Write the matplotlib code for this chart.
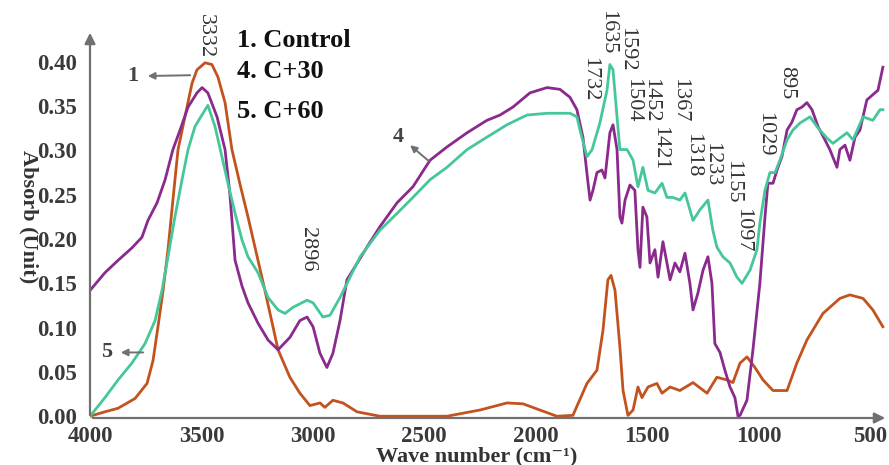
import numpy as np
import matplotlib
matplotlib.use("Agg")
import matplotlib.pyplot as plt

# FTIR spectra (wavenumber cm-1, absorbance)
ctrl_w = [4000, 3933, 3874, 3798, 3744, 3717, 3695, 3672, 3650, 3628, 3605, 3574, 3542, 3520,
          3484, 3453, 3426, 3394, 3363, 3327, 3291, 3215, 3156, 3103, 3058, 3013, 2968,
          2946, 2910, 2865, 2802, 2699, 2398, 2250, 2129, 2057, 1981, 1905, 1833, 1770, 1725,
          1698, 1676, 1662, 1644, 1622, 1608, 1586, 1563, 1541, 1523, 1496, 1456, 1433, 1397,
          1353, 1294, 1231, 1187, 1142, 1115, 1083, 1052, 1016, 980, 935, 872, 828, 783, 711,
          635, 590, 531, 487, 442]
ctrl_a = [0.000, 0.005, 0.009, 0.020, 0.037, 0.063, 0.101, 0.142, 0.188, 0.244, 0.301, 0.338,
          0.376, 0.391, 0.399, 0.397, 0.383, 0.354, 0.301, 0.262, 0.225, 0.142, 0.075,
          0.044, 0.026, 0.012, 0.015, 0.010, 0.018, 0.015, 0.005, 0.000, 0.000, 0.007, 0.015,
          0.014, 0.007, 0.000, 0.001, 0.037, 0.052, 0.097, 0.154, 0.159, 0.142, 0.078, 0.029,
          0.001, 0.007, 0.033, 0.021, 0.033, 0.037, 0.026, 0.033, 0.029, 0.038, 0.026, 0.044,
          0.041, 0.038, 0.060, 0.067, 0.055, 0.041, 0.029, 0.029, 0.060, 0.086, 0.116, 0.133,
          0.137, 0.133, 0.120, 0.101]

c30_w = [4000, 3933, 3874, 3812, 3767, 3740, 3699, 3663, 3628, 3596, 3560, 3520, 3497, 3471,
         3430, 3394, 3372, 3349, 3318, 3291, 3246, 3201, 3156, 3103, 3058, 3026, 2999, 2968,
         2937, 2910, 2878, 2847, 2820, 2757, 2699, 2622, 2551, 2474, 2398, 2308, 2219, 2160,
         2102, 2026, 1949, 1891, 1846, 1815, 1788, 1765, 1756, 1743, 1725, 1703, 1689, 1667,
         1653, 1635, 1622, 1613, 1599, 1577, 1555, 1541, 1532, 1519, 1501, 1487, 1465, 1451,
         1429, 1411, 1397, 1375, 1353, 1330, 1308, 1294, 1272, 1249, 1227, 1209, 1196, 1173,
         1151, 1128, 1106, 1092, 1083, 1052, 1025, 994, 971, 958, 935, 917, 895, 872, 850,
         828, 805, 783, 760, 733, 702, 680, 648, 635, 612, 590, 567, 545, 514, 487, 464, 442]
c30_a = [0.142, 0.162, 0.176, 0.190, 0.202, 0.221, 0.241, 0.267, 0.301, 0.323, 0.349, 0.365,
         0.371, 0.365, 0.338, 0.301, 0.250, 0.176, 0.147, 0.128, 0.105, 0.086, 0.075, 0.089,
         0.108, 0.112, 0.101, 0.071, 0.055, 0.071, 0.108, 0.154, 0.165, 0.191, 0.214, 0.241,
         0.259, 0.289, 0.304, 0.320, 0.334, 0.340, 0.349, 0.365, 0.371, 0.369, 0.360, 0.346,
         0.315, 0.263, 0.244, 0.255, 0.275, 0.278, 0.269, 0.320, 0.329, 0.301, 0.225, 0.218,
         0.244, 0.261, 0.255, 0.188, 0.168, 0.236, 0.225, 0.173, 0.188, 0.157, 0.197, 0.173,
         0.154, 0.173, 0.163, 0.184, 0.150, 0.120, 0.139, 0.165, 0.180, 0.150, 0.082, 0.072,
         0.052, 0.033, 0.021, 0.000, 0.001, 0.018, 0.075, 0.150, 0.225, 0.263, 0.263, 0.278,
         0.293, 0.323, 0.332, 0.346, 0.349, 0.354, 0.346, 0.327, 0.312, 0.301, 0.281, 0.301,
         0.306, 0.289, 0.315, 0.323, 0.357, 0.363, 0.368, 0.394]

c60_w = [4000, 3933, 3874, 3812, 3753, 3708, 3677, 3650, 3619, 3587, 3560, 3529, 3493, 3471,
         3439, 3408, 3381, 3349, 3318, 3291, 3246, 3201, 3156, 3125, 3089, 3026, 2999, 2955,
         2923, 2878, 2833, 2788, 2699, 2622, 2551, 2474, 2398, 2308, 2219, 2129, 2039, 1949,
         1846, 1815, 1801, 1770, 1747, 1712, 1680, 1667, 1653, 1635, 1622, 1590, 1563, 1541,
         1519, 1496, 1465, 1433, 1411, 1384, 1353, 1330, 1294, 1263, 1227, 1205, 1187, 1160,
         1128, 1097, 1074, 1038, 1007, 994, 971, 949, 926, 904, 872, 846, 814, 769, 738, 693,
         666, 635, 603, 576, 531, 487, 455, 442]
c60_a = [0.000, 0.021, 0.041, 0.060, 0.082, 0.108, 0.142, 0.180, 0.225, 0.267, 0.301, 0.327,
         0.342, 0.351, 0.327, 0.293, 0.263, 0.229, 0.199, 0.180, 0.162, 0.134, 0.120, 0.116,
         0.123, 0.131, 0.128, 0.112, 0.114, 0.134, 0.157, 0.180, 0.210, 0.229, 0.247, 0.267,
         0.281, 0.301, 0.315, 0.329, 0.340, 0.342, 0.342, 0.338, 0.323, 0.293, 0.301, 0.331,
         0.368, 0.397, 0.391, 0.338, 0.301, 0.301, 0.289, 0.259, 0.281, 0.255, 0.252, 0.263,
         0.247, 0.247, 0.244, 0.252, 0.221, 0.233, 0.244, 0.210, 0.191, 0.180, 0.173, 0.157,
         0.150, 0.165, 0.188, 0.218, 0.255, 0.275, 0.275, 0.289, 0.312, 0.323, 0.331, 0.338,
         0.327, 0.314, 0.308, 0.314, 0.320, 0.312, 0.338, 0.334, 0.346, 0.346]

peak_labels = ["3332", "2896", "1732", "1635", "1592", "1504", "1452", "1421", "1367",
               "1318", "1233", "1155", "1097", "1029", "895"]
peak_x = [3484, 3026, 1756, 1676, 1590, 1565, 1485, 1442, 1353, 1294, 1212, 1115, 1070, 971, 872]
peak_y = [0.429, 0.188, 0.380, 0.433, 0.414, 0.357, 0.357, 0.303, 0.357, 0.295, 0.285, 0.265,
          0.210, 0.318, 0.377]

legend_lines = ["1. Control", "4. C+30", "5. C+60"]

orange = "#c2531f"
purple = "#8a2a8c"
green = "#45c79a"
grey = "#707070"
serif = ["Liberation Serif", "DejaVu Serif"]

fig = plt.figure(figsize=(8.89, 4.65), dpi=100)
ax = fig.add_axes([90/889, 1-418/465, 798/889, 388/465])

ax.plot(ctrl_w, ctrl_a, color=orange, lw=2)
ax.plot(c30_w, c30_a, color=purple, lw=2)
ax.plot(c60_w, c60_a, color=green, lw=2)

ax.set_xlim(4000, 419)
ax.set_ylim(-0.002, 0.436)
ax.set_xticks([4000, 3500, 3000, 2500, 2000, 1500, 1000, 500])
ax.set_yticks(np.arange(0, 0.41, 0.05))
ax.set_yticklabels(["%.2f" % v for v in np.arange(0, 0.41, 0.05)])
ax.tick_params(length=0, labelsize=16.5, colors="#3a3a3a")
ax.tick_params(axis="y", pad=9)
ax.tick_params(axis="x", pad=6)
for lab in ax.get_xticklabels() + ax.get_yticklabels():
    lab.set_family(serif)
    lab.set_fontweight("bold")

for s in ax.spines.values():
    s.set_visible(False)
arrow_kw = dict(arrowstyle="-|>", color=grey, lw=1.6, mutation_scale=16)
ax.annotate("", xy=(0, 1), xytext=(0, 0), xycoords="axes fraction", arrowprops=arrow_kw)
ax.annotate("", xy=(1, 0), xytext=(0, 0), xycoords="axes fraction", arrowprops=arrow_kw)

ax.set_xlabel("Wave number (cm\u207b\u00b9)", family=serif, fontweight="bold",
              fontsize=16, color="#333333", va="center")
ax.xaxis.set_label_coords(0.485, -0.098)
ax.set_ylabel("Absorb (Unit)", family=serif, fontweight="bold", fontsize=16,
              color="#333333", rotation=270, va="center", ha="center")
ax.yaxis.set_label_coords(-0.077, 0.52)

for t, x, y in zip(peak_labels, peak_x, peak_y):
    ax.text(x, y, t, rotation=270, ha="center", va="center", family=serif,
            fontsize=16, color="#333333", clip_on=False)

for t, yy in zip(legend_lines, [0.974, 0.892, 0.789]):
    ax.text(0.184, yy, t, transform=ax.transAxes, family=serif, fontweight="bold",
            fontsize=19, color="#111111", ha="left", va="center")

# curve markers
small_arrow = dict(arrowstyle="-|>", color=grey, lw=1.4, mutation_scale=10)
ax.annotate("", xy=(3753, 0.384), xytext=(3538, 0.385), arrowprops=small_arrow)
ax.text(3807, 0.384, "1", family=serif, fontweight="bold", fontsize=16, color="#444444",
        ha="center", va="center")
ax.annotate("", xy=(2573, 0.308), xytext=(2470, 0.286), arrowprops=small_arrow)
ax.text(2618, 0.315, "4", family=serif, fontweight="bold", fontsize=16, color="#444444",
        ha="center", va="center")
ax.annotate("", xy=(3874, 0.072), xytext=(3749, 0.072), arrowprops=small_arrow)
ax.text(3924, 0.073, "5", family=serif, fontweight="bold", fontsize=16, color="#444444",
        ha="center", va="center")

fig.savefig("out.png", dpi=100)
